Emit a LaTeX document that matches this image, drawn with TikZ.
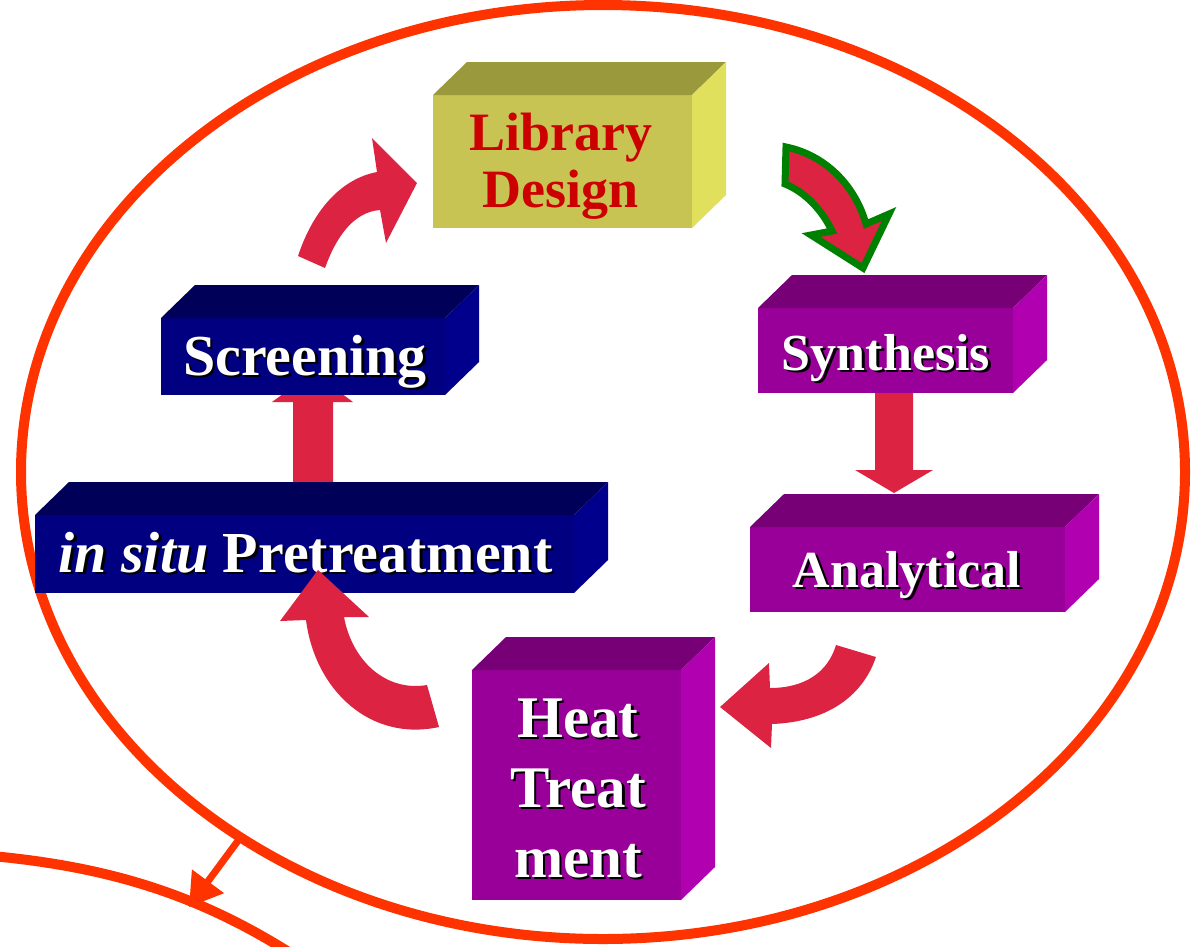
\documentclass[tikz,border=0pt]{standalone}
\usepackage{fontspec}
\setmainfont{Liberation Serif}
\usetikzlibrary{arrows.meta}

\definecolor{ringred}{HTML}{FF3300}
\definecolor{flow}{HTML}{DC2442}
\definecolor{leaf}{HTML}{008000}
\definecolor{oliveF}{HTML}{C8C454}
\definecolor{oliveT}{HTML}{9A9A3C}
\definecolor{oliveS}{HTML}{E0E05C}
\definecolor{plumF}{HTML}{990099}
\definecolor{plumT}{HTML}{770077}
\definecolor{plumS}{HTML}{B000B0}
\definecolor{navyF}{HTML}{000080}
\definecolor{navyT}{HTML}{000058}
\definecolor{navyS}{HTML}{00008C}
\definecolor{labelred}{HTML}{CC0000}

% white caption with a dark drop shadow
\newcommand\shd[1]{\makebox[0pt][l]{\kern2.5pt\raisebox{-2.5pt}{\textcolor{black}{#1}}}#1}

% top and side faces of a block whose front face is node #1
\newcommand\prismfaces[3]{%
  \fill[#2] (#1.north west) -- ([shift={(34,-33)}]#1.north west)
     -- ([shift={(34,-33)}]#1.north east) -- (#1.north east) -- cycle;
  \fill[#3] (#1.north east) -- ([shift={(34,-33)}]#1.north east)
     -- ([shift={(34,-33)}]#1.south east) -- (#1.south east) -- cycle;}

\tikzset{
  face/.style={rectangle, inner sep=0pt, outer sep=0pt, draw=none},
  caption/.style={inner sep=0pt, anchor=base, text=white, font=\bfseries},
  ringline/.style={draw=ringred, line width=10pt},
  fatarrow/.style={fill=flow},
}

\begin{document}
\begin{tikzpicture}[x=1pt, y=-1pt]
\useasboundingbox (0,0) rectangle (1193,946);

% outer ring and the neighbouring ring below
\draw[ringline] (603,472) ellipse [x radius=582pt, y radius=467pt];
\draw[ringline] (-8,856) .. controls (110,867) and (200,895) .. (295,956);
\coordinate (ringpt) at (240,838);
\coordinate (nextpt) at (189,907);
\draw[draw=ringred, line width=7pt, -{Triangle[length=32pt, width=38pt]}] (ringpt) -- (nextpt);

% straight arrow from pretreatment up to screening (head hidden by the block)
\fill[fatarrow] (293,484) -- (293,402) -- (272,402) -- (313,372) -- (353,402) -- (333,402) -- (333,484) -- cycle;

% Library Design block (multi-line captions sit on their last baseline)
\node[face, fill=oliveF, minimum width=259pt, minimum height=133pt] (lib) at (562.5,161.5) {};
\prismfaces{lib}{oliveT}{oliveS}
\node[caption, text=labelred, align=center, font=\bfseries\fontsize{54}{57}\selectfont] (libt) at (561,207) {Library\\Design};

% Synthesis block
\node[face, fill=plumF, minimum width=255pt, minimum height=85pt] (syn) at (885.5,350.5) {};
\prismfaces{syn}{plumT}{plumS}
\node[caption, font=\bfseries\fontsize{52}{56}\selectfont] (synt) at (886,370) {\shd{Synthesis}};

% Analytical block
\node[face, fill=plumF, minimum width=315pt, minimum height=85pt] (ana) at (907.5,569.5) {};
\prismfaces{ana}{plumT}{plumS}
\node[caption, font=\bfseries\fontsize{52}{56}\selectfont] (anat) at (907,587) {\shd{Analytical}};

% Heat Treatment block
\node[face, fill=plumF, minimum width=209pt, minimum height=230pt] (heat) at (576.5,785) {};
\prismfaces{heat}{plumT}{plumS}
\node[caption, align=center, font=\bfseries\fontsize{59}{70}\selectfont] (heatt) at (578,877) {\shd{Heat}\\\shd{Treat}\\\shd{ment}};

% Screening block
\node[face, fill=navyF, minimum width=284pt, minimum height=77pt] (scr) at (303,356.5) {};
\prismfaces{scr}{navyT}{navyS}
\node[caption, font=\bfseries\fontsize{58}{60}\selectfont] (scrt) at (305,375) {\shd{Screening}};

% in situ Pretreatment block
\node[face, fill=navyF, minimum width=539pt, minimum height=78pt] (pre) at (304.5,554) {};
\prismfaces{pre}{navyT}{navyS}
\node[caption, font=\bfseries\fontsize{58}{60}\selectfont] (pret) at (305.5,572) {\shd{\textit{in situ} Pretreatment}};

% straight arrow from synthesis down to analytical
\fill[fatarrow] (875,393) -- (875,470) -- (855,470) -- (894,493) -- (933,470) -- (913,470) -- (913,393) -- cycle;

% curved arrow from screening to library design
\fill[fatarrow] (298,256) .. controls (315,205) and (345,178) .. (377,172)
  -- (372,138) -- (417,183) -- (386,243) -- (380,210)
  .. controls (352,212) and (335,240) .. (325,268) -- cycle;

% outlined curved arrow from library design to synthesis
\filldraw[fill=flow, draw=leaf, line width=7pt, line join=miter]
  (786,147) .. controls (825,155) and (855,185) .. (866,224)
  -- (889,214) -- (863,268) -- (811,235) -- (832,231)
  .. controls (822,210) and (805,192) .. (785,184) -- cycle;

% curved arrow from analytical to heat treatment
\fill[fatarrow] (836,645) .. controls (828,672) and (805,688) .. (770,688)
  -- (769,663) -- (720,707) -- (771,748) -- (772,724)
  .. controls (825,722) and (862,698) .. (876,657) -- cycle;

% curved arrow from heat treatment to pretreatment
\fill[fatarrow] (427,685) .. controls (385,692) and (352,660) .. (344,617)
  -- (369,617) -- (318,570) -- (280,621) -- (306,620)
  .. controls (315,690) and (370,742) .. (439,727) -- cycle;
\end{tikzpicture}
\end{document}
